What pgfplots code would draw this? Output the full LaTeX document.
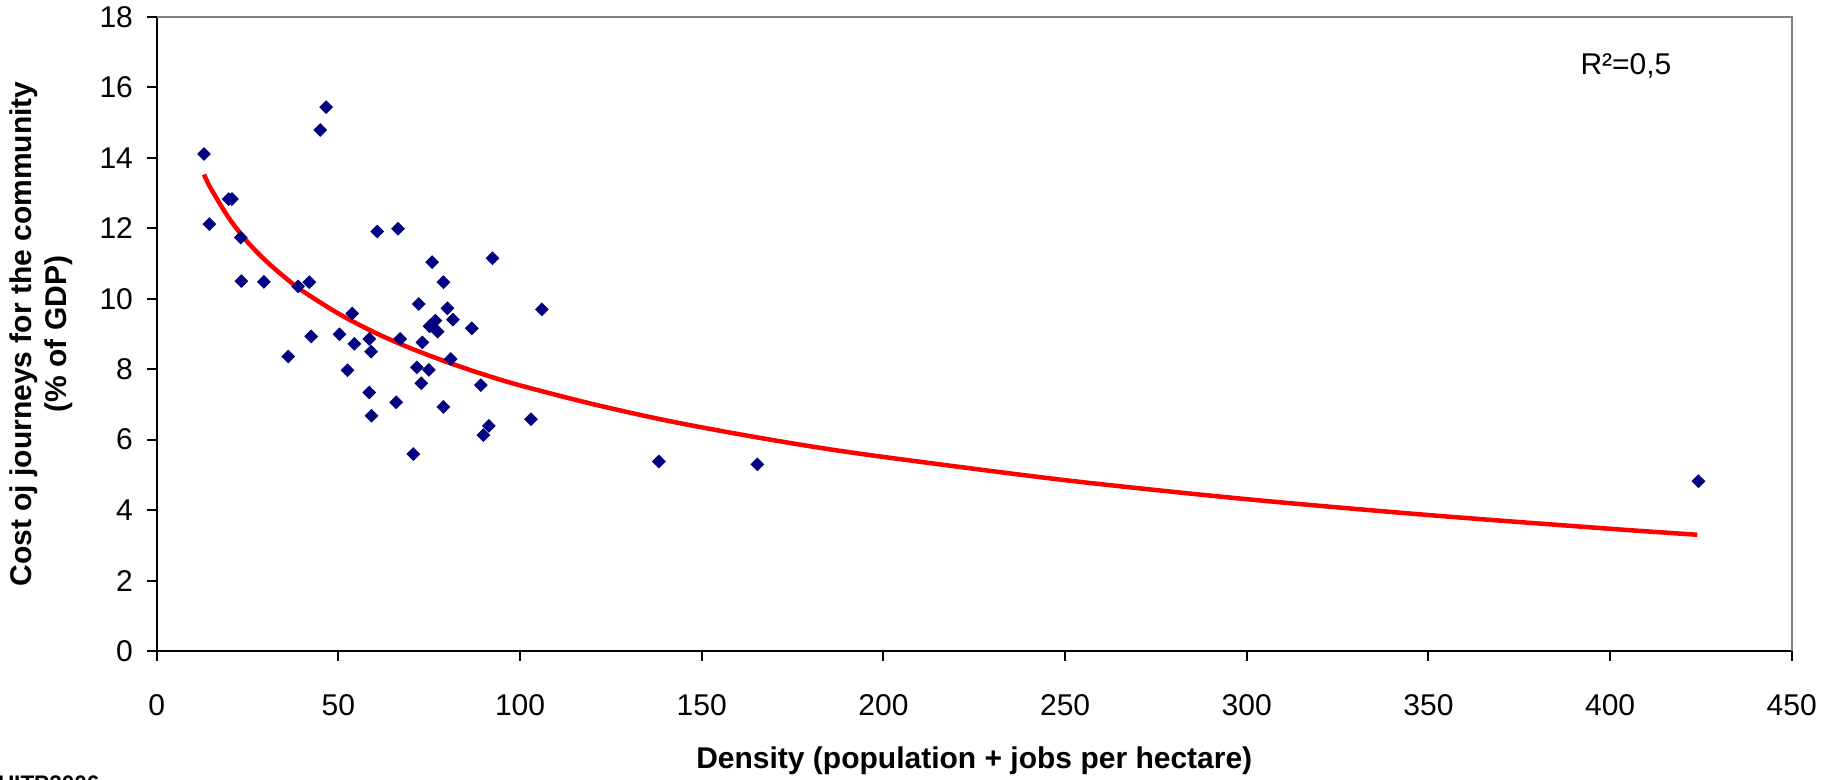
\documentclass[border=0pt]{standalone}
\usepackage{pgfplots}
\pgfplotsset{compat=1.18}
\usepackage{fontspec}
\setmainfont{Liberation Sans}
\definecolor{navyblue}{RGB}{0,0,128}
\definecolor{framegray}{RGB}{128,128,128}
\begin{document}
\begin{tikzpicture}
\useasboundingbox (0,0) rectangle (734.8pt,312pt);
\begin{axis}[
  at={(62.7pt,51.6pt)}, anchor=south west,
  scale only axis, width=654pt, height=253.6pt,
  xmin=0, xmax=450, ymin=0, ymax=18,
  xtick={0,50,...,450}, ytick={0,2,...,18},
  axis x line*=bottom, axis y line*=left,
  axis line style={black, line width=0.9pt, -},
  tick align=outside, major tick length=4pt,
  tick style={black, line width=0.8pt},
  /pgf/number format/assume math mode=true,
  tick label style={font=\fontsize{12}{14}\selectfont},
  yticklabel style={xshift=-2pt},
  xticklabel style={yshift=-10pt},
  xlabel={Density (population + jobs per hectare)},
  ylabel={Cost oj journeys for the community\\(\% of GDP)},
  xlabel style={font=\bfseries\fontsize{12}{14}\selectfont, at={(axis description cs:0.5,-0.1735)}, anchor=center},
  ylabel style={font=\bfseries\fontsize{12}{14}\selectfont, align=center, at={(axis description cs:-0.0705,0.5)}, anchor=center},
  clip=false,
]
\draw[framegray, line width=0.8pt] (rel axis cs:0,1) -- (rel axis cs:1,1) -- (rel axis cs:1,0);
\addplot[only marks, mark=square*, mark size=1.75pt, mark options={rotate=45, fill=navyblue, draw=navyblue}] coordinates {
(13.0,14.11) (14.5,12.12) (19.8,12.83) (20.7,12.83) (23.1,11.74) (23.3,10.50)
(29.5,10.48) (36.2,8.36) (38.9,10.35) (42.0,10.47) (42.5,8.93) (45.0,14.79)
(46.6,15.44) (50.3,8.99) (52.5,7.97) (53.8,9.58) (54.4,8.72) (58.5,8.86)
(58.5,7.34) (59.0,8.50) (59.1,6.68) (60.7,11.91) (65.9,7.06) (66.4,11.99)
(67.0,8.86) (70.6,5.59) (71.6,8.05) (72.1,9.85) (72.8,7.60) (73.1,8.76)
(74.9,7.98) (75.1,9.22) (75.8,11.04) (76.7,9.38) (77.3,9.07) (78.9,10.47)
(78.9,6.93) (80.0,9.73) (80.9,8.29) (81.5,9.41) (86.7,9.16) (89.2,7.55)
(89.9,6.13) (91.4,6.39) (92.4,11.15) (103.0,6.58) (106.0,9.70) (138.2,5.38)
(165.3,5.30) (424.3,4.82)
};
\addplot[red, line width=1.8pt, no marks, smooth] coordinates {
(13,13.53) (15,13.11) (20,12.27) (25,11.61) (30,11.08) (35,10.63) (40,10.23)
(50,9.58) (60,9.04) (70,8.59) (80,8.20) (90,7.85) (100,7.54) (120,7.01)
(140,6.55) (160,6.16) (180,5.81) (200,5.51) (250,4.85) (300,4.31) (350,3.86)
(400,3.47) (424,3.30)
};
\end{axis}
\node[anchor=base west, inner sep=0pt, font=\fontsize{12}{14}\selectfont] at (632pt,282pt) {R²=0,5};
\node[anchor=north west, inner sep=0pt, font=\bfseries\fontsize{9}{11}\selectfont] at (-1pt,2pt) {UITP2006};
\end{tikzpicture}
\end{document}
